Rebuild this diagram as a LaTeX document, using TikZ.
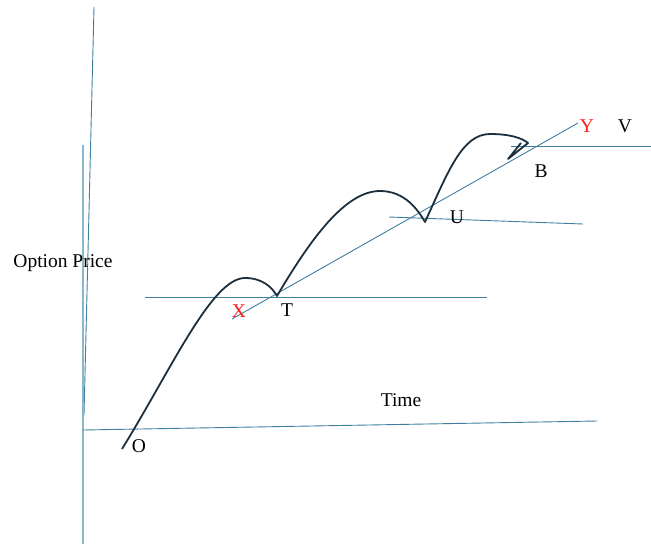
\documentclass[tikz,border=0pt]{standalone}
\usepackage{fontspec}
\setmainfont{Liberation Serif}
\usepackage{tikz}
\usetikzlibrary{
  arrows.meta,
  positioning,
  calc
}
\definecolor{opAxis}{HTML}{8AB6CB}
\definecolor{opLine}{HTML}{3F7F9F}
\definecolor{opCurve}{HTML}{1B2F3F}
\definecolor{opRed}{HTML}{FF1A1A}
\tikzset{
  axisline/.style={line width=1.3pt, opAxis},
  guide/.style={line width=0.9pt, opLine},
  price/.style={line width=1.8pt, opCurve, line join=round},
  lbl/.style={font=\fontsize{19.5}{22}\selectfont, inner sep=0pt, text=black},
  redlbl/.style={lbl, text=opRed}
}

\begin{document}
\begin{tikzpicture}[x=1pt, y=-1pt]
  \useasboundingbox (0,0) rectangle (651,544);
  % axes
  \coordinate (ytop) at (94,7);
  \coordinate (yfoot) at (84,415);
  \coordinate (vtop) at (83,145);
  \coordinate (vbot) at (83,544);
  \coordinate (tleft) at (83,430);
  \coordinate (tright) at (597,421);
  \draw[guide] (ytop) -- (yfoot);
  \draw[axisline] (vtop) -- (vbot);
  \draw[guide] (tleft) -- (tright);
  % guide lines
  \coordinate (xend) at (232,319);
  \coordinate (yend) at (578,123);
  \coordinate (tl) at (145,297);
  \coordinate (tr) at (487,297);
  \coordinate (ul) at (389,217);
  \coordinate (ur) at (583,224);
  \coordinate (bl) at (511,146);
  \coordinate (br) at (651,146);
  \draw[guide] (xend) -- (yend);
  \draw[guide] (tl) -- (tr);
  \draw[guide] (ul) -- (ur);
  \draw[guide] (bl) -- (br);
  % price path
  \coordinate (start) at (122,449);
  \coordinate (pk1) at (245,278);
  \coordinate (ptT) at (277,296);
  \coordinate (pk2) at (380,191);
  \coordinate (ptU) at (425,222);
  \coordinate (pk3) at (490,134);
  \coordinate (ptB) at (528,143);
  \coordinate (hook) at (508,159);
  \coordinate (hookend) at (521,143);
  \draw[price] (start) .. controls (172,368) and (212,278) .. (pk1)
    .. controls (262,278) and (272,287) .. (ptT)
    .. controls (310,240) and (345,191) .. (pk2)
    .. controls (405,191) and (418,210) .. (ptU)
    .. controls (448,172) and (462,134) .. (pk3)
    .. controls (510,134) and (522,138) .. (ptB)
    -- (hook) -- (hookend);
  % labels
  \node[lbl] (lblprice) at (63,263) {Option Price};
  \node[lbl] (lbltime) at (401,400) {Time};
  \node[lbl] (lblO) at (139,446) {O};
  \node[redlbl] (lblX) at (239,311) {X};
  \node[lbl] (lblT) at (287,310) {T};
  \node[lbl] (lblU) at (457,217) {U};
  \node[lbl] (lblB) at (541,171) {B};
  \node[redlbl] (lblY) at (587,126) {Y};
  \node[lbl] (lblV) at (625,126) {V};
\end{tikzpicture}
\end{document}
